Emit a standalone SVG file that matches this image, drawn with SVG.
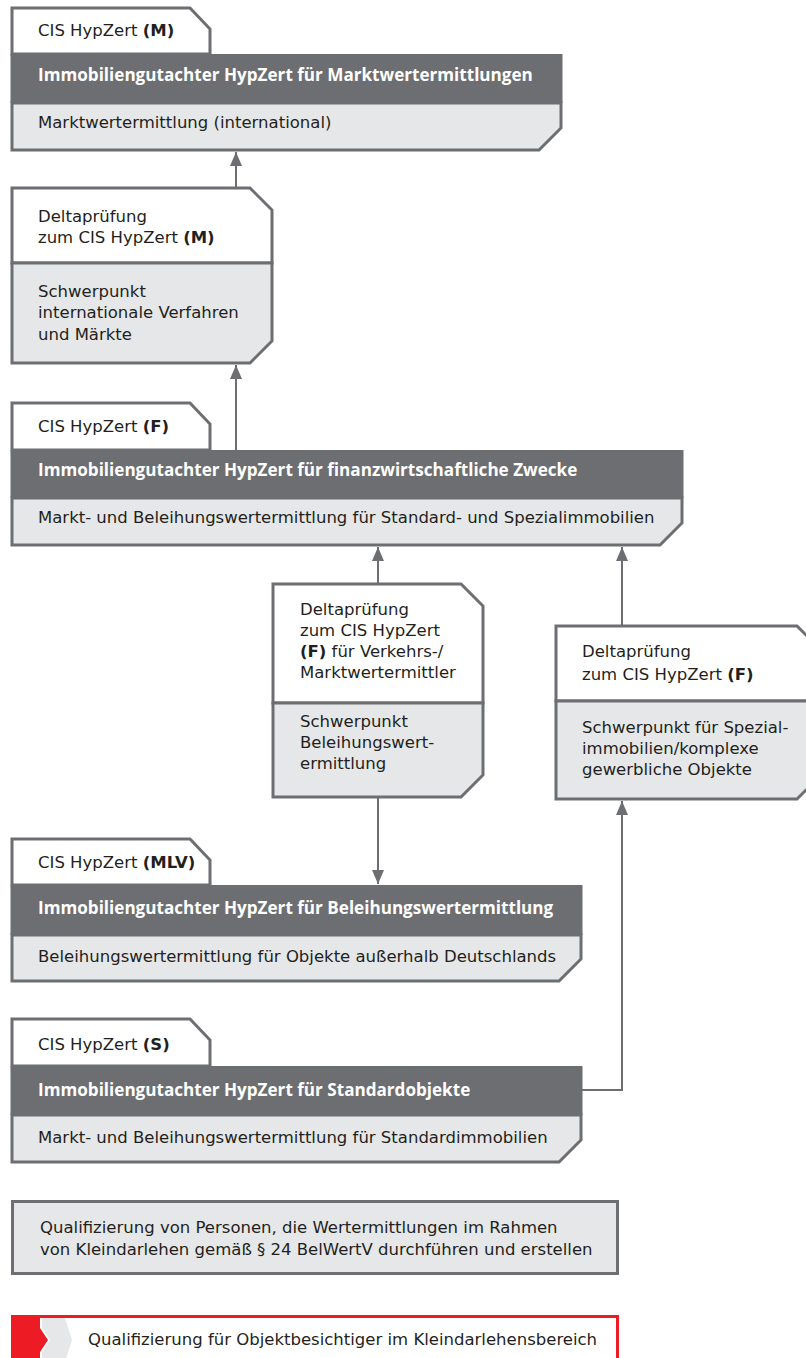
<svg xmlns="http://www.w3.org/2000/svg" width="806" height="1358" viewBox="0 0 806 1358">
<defs>
<style>
.o{stroke:#6d6e71;stroke-width:3;stroke-linejoin:miter}
.w{fill:#ffffff}
.l{fill:#e6e7e8}
.d{fill:#6d6e71}
.t{font-family:"DejaVu Sans","Open Sans",sans-serif;font-size:16.5px;fill:#231f20}
.h{font-family:"Open Sans","Liberation Sans",sans-serif;font-size:17.1px;font-weight:bold;fill:#ffffff}
.b{font-weight:bold}
.c{fill:none;stroke:#6d6e71;stroke-width:2}
</style>
<marker id="ah" markerUnits="userSpaceOnUse" markerWidth="16" markerHeight="12" refX="14" refY="6" orient="auto">
<path d="M0,0 L14,6 L0,12 Z" fill="#6d6e71"/>
</marker>
</defs>
<g id="connectors">
<line class="c" x1="236" y1="188" x2="236" y2="152" marker-end="url(#ah)"/>
<line class="c" x1="236" y1="450" x2="236" y2="365" marker-end="url(#ah)"/>
<line class="c" x1="378" y1="584" x2="378" y2="547" marker-end="url(#ah)"/>
<line class="c" x1="622" y1="626" x2="622" y2="547" marker-end="url(#ah)"/>
<line class="c" x1="378" y1="797" x2="378" y2="884" marker-end="url(#ah)"/>
<polyline class="c" points="582,1090 622,1090 622,801" marker-end="url(#ah)"/>
</g>
<g id="node-m">
<path class="o w" d="M12,54 V8 H190 L210,29 V54 Z"/>
<rect class="d" x="10.5" y="54" width="552" height="49"/>
<path class="o l" d="M12,103 H561 V128 L539,150 H12 Z"/>
<text class="t" x="38" y="36">CIS HypZert <tspan class="b">(M)</tspan></text>
<text class="h" x="38" y="81">Immobiliengutachter HypZert für Marktwertermittlungen</text>
<text class="t" x="38" y="128">Marktwertermittlung (international)</text>
</g>
<g id="node-delta-m">
<path class="o w" d="M12,263 V188 H250 L272,210 V263 Z"/>
<path class="o l" d="M12,263 H272 V341 L250,363 H12 Z"/>
<text class="t" x="38" y="222">Deltaprüfung</text>
<text class="t" x="38" y="243">zum CIS HypZert <tspan class="b">(M)</tspan></text>
<text class="t" x="38" y="297">Schwerpunkt</text>
<text class="t" x="38" y="318">internationale Verfahren</text>
<text class="t" x="38" y="340">und Märkte</text>
</g>
<g id="node-f">
<path class="o w" d="M12,450 V403 H190 L210,424 V450 Z"/>
<rect class="d" x="10.5" y="450" width="673" height="48"/>
<path class="o l" d="M12,498 H682 V523 L660,545 H12 Z"/>
<text class="t" x="38" y="432">CIS HypZert <tspan class="b">(F)</tspan></text>
<text class="h" x="38" y="476">Immobiliengutachter HypZert für finanzwirtschaftliche Zwecke</text>
<text class="t" x="38" y="523">Markt- und Beleihungswertermittlung für Standard- und Spezialimmobilien</text>
</g>
<g id="node-delta-fv">
<path class="o w" d="M273,703 V584 H461 L483,606 V703 Z"/>
<path class="o l" d="M273,703 H483 V775 L461,797 H273 Z"/>
<text class="t" x="300" y="615">Deltaprüfung</text>
<text class="t" x="300" y="636">zum CIS HypZert</text>
<text class="t" x="300" y="657"><tspan class="b">(F)</tspan> für Verkehrs-/</text>
<text class="t" x="300" y="678">Marktwertermittler</text>
<text class="t" x="300" y="727">Schwerpunkt</text>
<text class="t" x="300" y="748">Beleihungswert-</text>
<text class="t" x="300" y="769">ermittlung</text>
</g>
<g id="node-delta-f">
<path class="o w" d="M556,701 V626 H797 L819,648 V701 Z"/>
<path class="o l" d="M556,701 H819 V777 L797,799 H556 Z"/>
<text class="t" x="582" y="657">Deltaprüfung</text>
<text class="t" x="582" y="680">zum CIS HypZert <tspan class="b">(F)</tspan></text>
<text class="t" x="582" y="733">Schwerpunkt für Spezial-</text>
<text class="t" x="582" y="754">immobilien/komplexe</text>
<text class="t" x="582" y="775">gewerbliche Objekte</text>
</g>
<g id="node-mlv">
<path class="o w" d="M12,885 V839 H190 L210,860 V885 Z"/>
<rect class="d" x="10.5" y="885" width="572" height="50"/>
<path class="o l" d="M12,935 H581 V959 L559,981 H12 Z"/>
<text class="t" x="38" y="868">CIS HypZert <tspan class="b">(MLV)</tspan></text>
<text class="h" x="38" y="914">Immobiliengutachter HypZert für Beleihungswertermittlung</text>
<text class="t" x="38" y="962">Beleihungswertermittlung für Objekte außerhalb Deutschlands</text>
</g>
<g id="node-s">
<path class="o w" d="M12,1066 V1019 H190 L210,1040 V1066 Z"/>
<rect class="d" x="10.5" y="1066" width="572" height="49"/>
<path class="o l" d="M12,1115 H581 V1140 L559,1162 H12 Z"/>
<text class="t" x="38" y="1050">CIS HypZert <tspan class="b">(S)</tspan></text>
<text class="h" x="38" y="1096">Immobiliengutachter HypZert für Standardobjekte</text>
<text class="t" x="38" y="1143">Markt- und Beleihungswertermittlung für Standardimmobilien</text>
</g>
<g id="node-klein">
<rect class="o l" x="12.5" y="1201.5" width="605" height="72"/>
<text class="t" x="40" y="1233">Qualifizierung von Personen, die Wertermittlungen im Rahmen</text>
<text class="t" x="40" y="1255">von Kleindarlehen gemäß § 24 BelWertV durchführen und erstellen</text>
</g>
<g id="node-objekt">
<rect x="12.5" y="1316.5" width="605" height="50" fill="#ffffff" stroke="#ed1c24" stroke-width="3"/>
<path d="M11,1315 H40 V1328 L48,1340 L40,1352 V1368 H11 Z" fill="#ed1c24"/>
<path d="M42,1318 H65 L72,1340 L65,1362 H42 V1352 L50,1340 L42,1328 Z" fill="#e6e7e8"/>
<text class="t" x="88" y="1345">Qualifizierung für Objektbesichtiger im Kleindarlehensbereich</text>
</g>
</svg>
